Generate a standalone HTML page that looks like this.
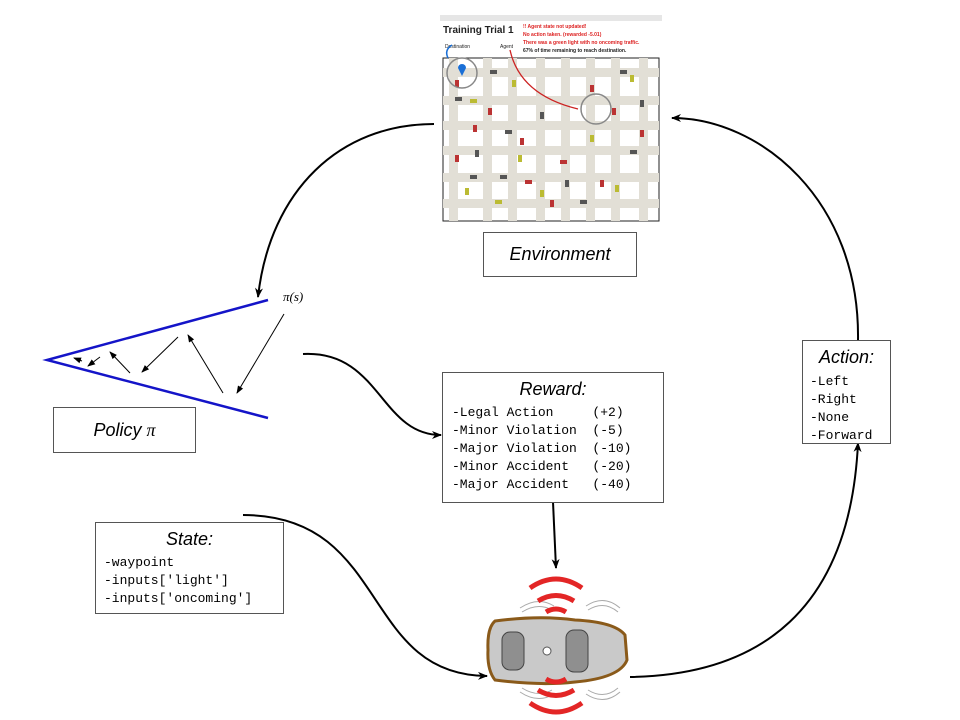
<!DOCTYPE html>
<html><head><meta charset="utf-8"><style>
body{margin:0;background:#fff;width:960px;height:720px;overflow:hidden;position:relative;font-family:"Liberation Sans",sans-serif}
.box{position:absolute;border:1px solid #555;background:#fff;box-sizing:border-box}
.mono{font-family:"Liberation Mono",monospace;font-size:13px;line-height:18px;white-space:pre;position:absolute}
.ti{position:absolute;font-style:italic;font-size:18px;text-align:center;width:100%}
</style></head><body>
<svg width="960" height="720" style="position:absolute;left:0;top:0">
<defs><marker id="a" markerWidth="10" markerHeight="10" refX="9" refY="5" orient="auto" markerUnits="userSpaceOnUse"><path d="M0,1 L10,5 L0,9 L3,5z" fill="#000"/></marker>
<marker id="s" markerWidth="8" markerHeight="8" refX="7" refY="4" orient="auto" markerUnits="userSpaceOnUse"><path d="M0,1 L8,4 L0,7z" fill="#000"/></marker></defs>
<g>
<rect x="440" y="15" width="222" height="207" fill="#fff"/>
<rect x="440" y="15" width="222" height="6" fill="#e6e6e6"/>
<text x="443" y="33" font-size="10" font-weight="bold" fill="#222">Training Trial 1</text>
<text x="523" y="28" font-size="5" font-weight="bold" fill="#d22">!! Agent state not updated!</text>
<text x="523" y="36" font-size="5" font-weight="bold" fill="#d22">No action taken. (rewarded -5.01)</text>
<text x="523" y="44" font-size="5" font-weight="bold" fill="#d22">There was a green light with no oncoming traffic.</text>
<text x="523" y="52" font-size="5" font-weight="bold" fill="#222">67% of time remaining to reach destination.</text>
<text x="445" y="48" font-size="5" fill="#222">Destination</text>
<text x="500" y="48" font-size="5" fill="#222">Agent</text>
<rect x="443" y="58" width="216" height="163" fill="#fff" stroke="#222" stroke-width="1"/>
<g fill="#e2dfd6">
<rect x="443" y="68" width="216" height="9"/><rect x="443" y="96" width="216" height="9"/><rect x="443" y="121" width="216" height="9"/><rect x="443" y="146" width="216" height="9"/><rect x="443" y="173" width="216" height="9"/><rect x="443" y="199" width="216" height="9"/>
<rect x="449" y="58" width="9" height="163"/><rect x="483" y="58" width="9" height="163"/><rect x="508" y="58" width="9" height="163"/><rect x="536" y="58" width="9" height="163"/><rect x="561" y="58" width="9" height="163"/><rect x="586" y="58" width="9" height="163"/><rect x="611" y="58" width="9" height="163"/><rect x="639" y="58" width="9" height="163"/>
</g>
<g fill="#b33"><rect x="455" y="80" width="4" height="7"/><rect x="488" y="108" width="4" height="7"/><rect x="590" y="85" width="4" height="7"/><rect x="612" y="108" width="4" height="7"/><rect x="520" y="138" width="4" height="7"/><rect x="600" y="180" width="4" height="7"/><rect x="560" y="160" width="7" height="4"/><rect x="473" y="125" width="4" height="7"/><rect x="640" y="130" width="4" height="7"/><rect x="550" y="200" width="4" height="7"/><rect x="525" y="180" width="7" height="4"/><rect x="455" y="155" width="4" height="7"/></g>
<g fill="#bb3"><rect x="512" y="80" width="4" height="7"/><rect x="470" y="99" width="7" height="4"/><rect x="540" y="190" width="4" height="7"/><rect x="465" y="188" width="4" height="7"/><rect x="590" y="135" width="4" height="7"/><rect x="630" y="75" width="4" height="7"/><rect x="518" y="155" width="4" height="7"/><rect x="495" y="200" width="7" height="4"/><rect x="615" y="185" width="4" height="7"/></g>
<g fill="#555"><rect x="640" y="100" width="4" height="7"/><rect x="620" y="70" width="7" height="4"/><rect x="540" y="112" width="4" height="7"/><rect x="500" y="175" width="7" height="4"/><rect x="475" y="150" width="4" height="7"/><rect x="630" y="150" width="7" height="4"/><rect x="490" y="70" width="7" height="4"/><rect x="455" y="97" width="7" height="4"/><rect x="565" y="180" width="4" height="7"/><rect x="580" y="200" width="7" height="4"/><rect x="505" y="130" width="7" height="4"/><rect x="470" y="175" width="7" height="4"/></g>
<circle cx="462" cy="73" r="15" fill="none" stroke="#888" stroke-width="1.5"/>
<path d="M462,64 a4,4 0 0 1 4,4 l-4,8 l-4,-8 a4,4 0 0 1 4,-4z" fill="#1a6fd6"/>
<circle cx="596" cy="109" r="15" fill="none" stroke="#888" stroke-width="1.5"/>
<path d="M510,50 Q520,95 578,109" fill="none" stroke="#c22" stroke-width="1.3"/>
<path d="M452,45 Q444,50 448,58" fill="none" stroke="#1a6fd6" stroke-width="1.5"/>
</g>
<path d="M434,124 C340,124 270,190 258,297" fill="none" stroke="#000" stroke-width="2" marker-end="url(#a)"/>
<path d="M858,340 C860,200 760,118 672,118" fill="none" stroke="#000" stroke-width="2" marker-end="url(#a)"/>
<path d="M303,354 C380,350 380,435 441,435" fill="none" stroke="#000" stroke-width="2" marker-end="url(#a)"/>
<path d="M553,502 L556,568" fill="none" stroke="#000" stroke-width="2" marker-end="url(#a)"/>
<path d="M243,515 C390,515 360,675 487,676" fill="none" stroke="#000" stroke-width="2" marker-end="url(#a)"/>
<path d="M630,677 C760,675 850,610 858,443" fill="none" stroke="#000" stroke-width="2" marker-end="url(#a)"/>
<path d="M268,300 L47,360 L268,418" fill="none" stroke="#1414c8" stroke-width="2.5"/>
<g stroke="#000" stroke-width="1" fill="none" marker-end="url(#s)">
<path d="M284,314 L237,393"/><path d="M223,393 L188,335"/><path d="M178,337 L142,372"/><path d="M130,373 L110,352"/><path d="M100,357 L88,366"/><path d="M82,361 L74,358"/>
</g>
<text x="283" y="301" font-family="Liberation Serif,serif" font-style="italic" font-size="13">π(s)</text>
<g>
<g fill="none" stroke="#aaa" stroke-width="1">
<path d="M522,612 Q538,602 552,610"/><path d="M520,608 Q538,596 554,606"/><path d="M588,610 Q604,600 618,612"/><path d="M586,606 Q604,594 620,608"/>
<path d="M522,688 Q538,698 552,690"/><path d="M520,692 Q538,704 554,694"/><path d="M588,690 Q604,700 618,688"/><path d="M586,694 Q604,706 620,692"/>
</g>
<path d="M495,621 Q540,615 575,620 Q615,622 625,635 L627,660 Q620,678 575,682 Q540,686 495,680 Q487,670 488,650 Q487,628 495,621z" fill="#c9c9c9" stroke="#8a5a1a" stroke-width="3"/>
<g fill="none" stroke="#e32626" stroke-width="5">
<path d="M530,588 Q556,570 582,588"/><path d="M538,601 Q556,590 574,601"/><path d="M546,612 Q556,606 566,612"/>
<path d="M530,703 Q556,721 582,703"/><path d="M538,690 Q556,701 574,690"/><path d="M546,679 Q556,685 566,679"/>
</g>
<rect x="502" y="632" width="22" height="38" rx="8" fill="#8f8f8f" stroke="#444"/>
<rect x="566" y="630" width="22" height="42" rx="8" fill="#8f8f8f" stroke="#444"/>
<circle cx="547" cy="651" r="4" fill="#fff" stroke="#555"/>
</g>
</svg>
<div class="box" style="left:483px;top:232px;width:154px;height:45px"><div class="ti" style="top:11px">Environment</div></div>
<div class="box" style="left:53px;top:407px;width:143px;height:46px"><div class="ti" style="top:12px">Policy <span style="font-family:'Liberation Serif',serif">π</span></div></div>
<div class="box" style="left:442px;top:372px;width:222px;height:131px"><div class="ti" style="top:6px">Reward:</div>
<div class="mono" style="left:9px;top:31px">-Legal Action     (+2)
-Minor Violation  (-5)
-Major Violation  (-10)
-Minor Accident   (-20)
-Major Accident   (-40)</div></div>
<div class="box" style="left:95px;top:522px;width:189px;height:92px"><div class="ti" style="top:6px">State:</div>
<div class="mono" style="left:8px;top:31px">-waypoint
-inputs['light']
-inputs['oncoming']</div></div>
<div class="box" style="left:802px;top:340px;width:89px;height:104px"><div class="ti" style="top:6px">Action:</div>
<div class="mono" style="left:7px;top:32px">-Left
-Right
-None
-Forward</div></div>
</body></html>
